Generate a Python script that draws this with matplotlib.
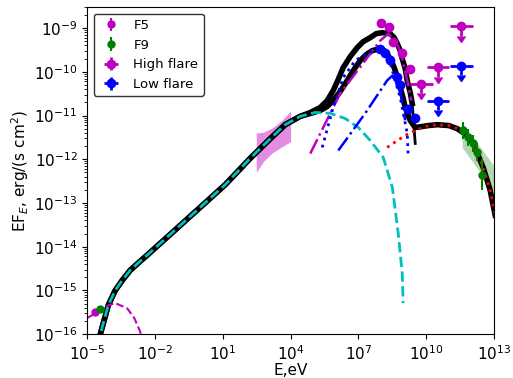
import numpy as np
import matplotlib.pyplot as plt

# --- model curves (log10 E [eV], log10 EF_E) ---
sync_logE = [-4.56, -4.42, -4.25, -4.07, -3.76, -3.45, -3.10, -2.65, -2.21, -1.33, 0.0, 1.11, 2.21, 3.10, 3.76, 4.42,
             5.09, 5.75, 6.42, 6.99, 7.52, 8.10, 8.50, 8.76, 8.94, 8.98]
sync_logF = [-16.25, -16.0, -15.68, -15.34, -15.0, -14.77, -14.54, -14.33, -14.13, -13.72, -13.10, -12.58, -11.98, -11.53, -11.21, -11.02,
             -10.93, -10.95, -11.07, -11.27, -11.57, -11.96, -12.64, -13.69, -14.61, -15.29]

high_logE = [4.867, 5.310, 5.619, 5.885, 6.106, 6.327, 6.637, 6.947, 7.212, 7.522, 7.788, 8.053, 8.407, 8.584,
             8.717, 8.850, 8.938, 9.071, 9.159, 9.292, 9.381, 9.513]
high_logF = [-10.932, -10.817, -10.658, -10.429, -10.178, -9.904, -9.653, -9.447, -9.311, -9.219, -9.128, -9.105, -9.128, -9.219,
             -9.356, -9.516, -9.699, -9.927, -10.201, -10.475, -10.726, -11.639]

low_logE = [4.867, 5.310, 5.619, 5.885, 6.195, 6.504, 6.770, 7.080, 7.345, 7.611, 7.965, 8.142, 8.319, 8.496,
            8.628, 8.761, 8.850, 8.982, 9.071, 9.204, 9.292, 9.513]
low_logF = [-10.954, -10.886, -10.795, -10.658, -10.452, -10.201, -9.973, -9.744, -9.607, -9.516, -9.470, -9.516, -9.630, -9.790,
            -9.973, -10.178, -10.361, -10.612, -10.817, -11.0, -11.114, -11.274]

ic_logE = [8.27, 8.85, 9.29, 9.73, 10.10, 10.49, 11.00, 11.37, 11.75, 12.08, 12.52, 12.83, 13.05]
ic_logF = [-11.73, -11.53, -11.39, -11.30, -11.23, -11.21, -11.23, -11.30, -11.43, -11.64, -12.19, -12.71, -13.28]

hf_comp_logE = [4.87, 6.19, 7.39, 7.96, 8.32, 8.72, 8.94, 9.16, 9.34]
hf_comp_logF = [-11.87, -10.50, -9.68, -9.29, -9.13, -9.36, -9.70, -10.20, -10.66]

lf_comp_logE = [6.11, 7.30, 8.27, 8.50, 8.85, 9.07]
lf_comp_logF = [-11.80, -10.95, -10.20, -10.09, -10.43, -11.11]

lf_dot_logE = [5.40, 5.88, 6.33, 6.86, 7.39, 7.88, 8.41, 8.85, 9.16, 9.20]
lf_dot_logF = [-11.73, -10.82, -10.13, -9.74, -9.58, -9.47, -9.81, -10.59, -11.41, -11.91]

radio_logE = [-5.0, -4.56, -4.16, -3.76, -3.23, -2.92, -2.65, -2.57]
radio_logF = [-15.63, -15.50, -15.36, -15.29, -15.41, -15.63, -15.95, -16.14]

# --- butterflies ---
xray_logE = [2.48, 2.8, 3.2, 3.6, 4.0]
xray_up = [-11.40, -11.38, -11.28, -11.12, -10.90]
xray_lo = [-12.30, -12.05, -11.85, -11.72, -11.60]

vhe_logE = [11.59, 13.05]
vhe_up = [-11.16, -12.19]
vhe_lo = [-11.73, -12.78]

# --- data points ---
f5_logE = [-4.65]
f5_logF = [-15.50]
f9_logE = [-4.42, 11.64, 11.86, 12.08, 12.26, 12.48]
f9_logF = [-15.43, -11.34, -11.50, -11.64, -11.84, -12.35]
f9_err = [0.03, 0.2, 0.2, 0.2, 0.2, 0.35]

hi_logE = [8.01, 8.36, 8.54, 8.94, 9.29]
hi_logF = [-8.88, -8.98, -9.32, -9.57, -9.93]
hi_ul_logE = [9.78, 10.53, 11.55]
hi_ul_logF = [-10.27, -9.90, -8.95]

lo_logE = [7.96, 8.19, 8.41, 8.72, 8.85, 9.20, 9.51]
lo_logF = [-9.47, -9.58, -9.74, -10.13, -10.31, -10.84, -11.05]
lo_ul_logE = [10.53, 11.55]
lo_ul_logF = [-10.66, -9.86]


def p(a):
    return 10.0 ** np.asarray(a)


fig = plt.figure(figsize=(5.13, 3.78), dpi=100)
ax = fig.add_axes([0.170, 0.116, 0.793, 0.865])

# bands
ax.fill_between(p(xray_logE), p(xray_lo), p(xray_up), color='m', alpha=0.45, lw=0)
ax.fill_between(p(vhe_logE), p(vhe_lo), p(vhe_up), color='g', alpha=0.3, lw=0)

# total models
ax.plot(p(sync_logE[:16] + low_logE + ic_logE[4:]), p(sync_logF[:16] + low_logF + ic_logF[4:]), 'k-', lw=4)
ax.plot(p(sync_logE[:16] + high_logE[:-1]), p(sync_logF[:16] + high_logF[:-1]), 'k-', lw=4)
ax.plot(p(high_logE[-3:]), p(high_logF[-3:]), 'k-', lw=2)

# components
ax.plot(p(sync_logE), p(sync_logF), 'c--', lw=2)
ax.plot(p(ic_logE), p(ic_logF), 'r:', lw=2)
ax.plot(p(hf_comp_logE), p(hf_comp_logF), 'm-.', lw=1.8)
ax.plot(p(lf_comp_logE), p(lf_comp_logF), 'b-.', lw=1.8)
ax.plot(p(lf_dot_logE), p(lf_dot_logF), 'b:', lw=2)
ax.plot(p(radio_logE), p(radio_logF), 'm--', lw=1.5)

# data
f5y = p(f5_logF)
ax.errorbar(p(f5_logE), f5y, yerr=0.05 * f5y, fmt='o', color='m', ms=5, label='F5')
f9y = p(f9_logF)
f9e = [f9y - p(np.array(f9_logF) - np.array(f9_err)), p(np.array(f9_logF) + np.array(f9_err)) - f9y]
ax.errorbar(p(f9_logE), f9y, yerr=f9e, fmt='o', color='g', ms=5, label='F9')

hy = p(hi_logF)
ax.errorbar(p(hi_logE), hy, yerr=0.08 * hy, xerr=[p(hi_logE) - p(np.array(hi_logE) - 0.12), p(np.array(hi_logE) + 0.12) - p(hi_logE)],
            fmt='o', color='m', ms=6, lw=2, label='High flare')
huy = p(hi_ul_logF)
hux = p(hi_ul_logE)
ax.errorbar(hux, huy, yerr=0.4 * huy, uplims=True,
            xerr=[hux - p(np.array(hi_ul_logE) - 0.5), p(np.array(hi_ul_logE) + 0.5) - hux],
            fmt='o', color='m', ms=6, lw=2)

ly = p(lo_logF)
ax.errorbar(p(lo_logE), ly, yerr=0.08 * ly, xerr=[p(lo_logE) - p(np.array(lo_logE) - 0.12), p(np.array(lo_logE) + 0.12) - p(lo_logE)],
            fmt='o', color='b', ms=6, lw=2, label='Low flare')
luy = p(lo_ul_logF)
lux = p(lo_ul_logE)
ax.errorbar(lux, luy, yerr=0.4 * luy, uplims=True,
            xerr=[lux - p(np.array(lo_ul_logE) - 0.5), p(np.array(lo_ul_logE) + 0.5) - lux],
            fmt='o', color='b', ms=6, lw=2)

ax.set_xscale('log')
ax.set_yscale('log')
ax.set_xlim(1e-5, 1e13)
ax.set_ylim(1e-16, 3e-9)
ax.set_xticks([1e-5, 1e-2, 1e1, 1e4, 1e7, 1e10, 1e13])
ax.tick_params(labelsize=11)
ax.set_xlabel('E,eV', fontsize=11, labelpad=0)
ax.set_ylabel('EF$_E$, erg/(s cm$^2$)', fontsize=11, labelpad=2)
leg = ax.legend(loc='upper left', fontsize=9.5, edgecolor='k', handlelength=1.8)

plt.savefig('out.png', dpi=100)
